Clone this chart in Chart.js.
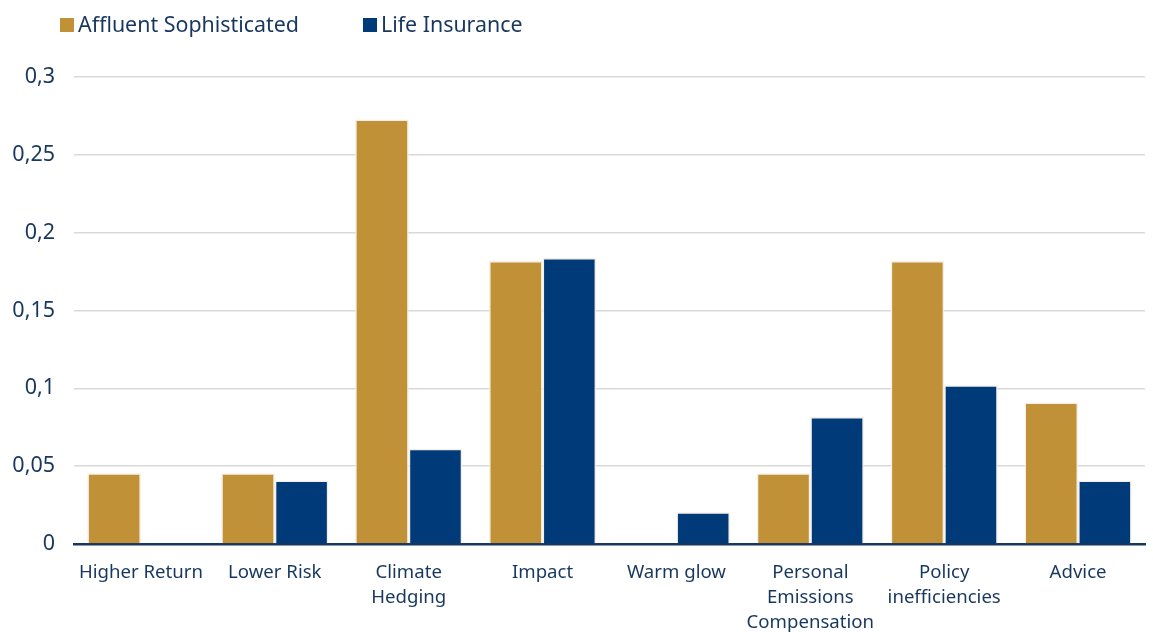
<!doctype html>
<html>
<head>
	<meta charset="UTF-8">
	<title>Motives</title>
	<script src="https://cdn.jsdelivr.net/npm/chart.js@4/dist/chart.umd.min.js"></script>
	<style>
		body { margin: 0; background: #fff; }
		#wrap { position: relative; width: 1153px; height: 632px; }
		#legend { position: absolute; left: 60px; top: 9px; display: flex; font-family: 'Noto Sans', sans-serif; font-size: 21.4px; color: #17375E; }
		#legend .item { display: flex; align-items: center; margin-right: 64px; }
		#legend .box { width: 14px; height: 14px; margin-right: 4px; margin-top: 2px; }
	</style>
</head>
<body>
<div id="wrap">
	<div id="legend"></div>
	<canvas id="chart-area" width="1153" height="632"></canvas>
</div>
<script>
	var categories = ['Higher Return', 'Lower Risk', ['Climate', 'Hedging'], 'Impact', 'Warm glow',
		['Personal', 'Emissions', 'Compensation'], ['Policy', 'inefficiencies'], 'Advice'];
	var affluent = [0.0455, 0.0455, 0.2727, 0.1818, 0, 0.0455, 0.1818, 0.0909];
	var lifeIns = [0, 0.0408, 0.0612, 0.1837, 0.0204, 0.0816, 0.102, 0.0408];
	var seriesNames = ['Affluent Sophisticated', 'Life Insurance'];
	var colors = ['#C09137', '#003A78'];
	var textColor = '#17375E';

	// html legend, built from the chart's own legend items
	var htmlLegend = {
		id: 'htmlLegend',
		afterUpdate: function (chart) {
			var el = document.getElementById('legend');
			el.innerHTML = '';
			var items = chart.options.plugins.legend.labels.generateLabels(chart);
			items.forEach(function (it) {
				var d = document.createElement('div');
				d.className = 'item';
				var b = document.createElement('span');
				b.className = 'box';
				b.style.background = it.fillStyle;
				var t = document.createElement('span');
				t.textContent = it.text;
				d.appendChild(b);
				d.appendChild(t);
				el.appendChild(d);
			});
		}
	};

	var config = {
		type: 'bar',
		data: {
			labels: categories,
			datasets: [
				{ label: seriesNames[0], data: affluent, backgroundColor: colors[0], borderColor: '#f4efe6', borderWidth: 1.5 },
				{ label: seriesNames[1], data: lifeIns, backgroundColor: colors[1], borderColor: '#f4efe6', borderWidth: 1.5 }
			]
		},
		options: {
			responsive: false,
			animation: false,
			datasets: { bar: { categoryPercentage: 0.8, barPercentage: 1 } },
			layout: { padding: { top: 77, left: 8, right: 8, bottom: 0 } },
			plugins: {
				legend: { display: false },
				tooltip: { enabled: false }
			},
			scales: {
				x: {
					grid: { display: false, drawTicks: false },
					border: { color: '#17375E', width: 2.5 },
					ticks: { color: textColor, padding: 16, font: { family: 'Noto Sans', size: 18.6, lineHeight: 1.35 }, maxRotation: 0, autoSkip: false },
					afterFit: function (s) { s.height = 88; s.paddingLeft = 0; s.paddingRight = 0; }
				},
				y: {
					min: 0,
					max: 0.3,
					grid: { color: '#d9d9d9', lineWidth: 1.5, drawTicks: false },
					border: { display: false },
					ticks: {
						stepSize: 0.05,
						color: textColor,
						padding: 19,
						font: { family: 'Noto Sans', size: 21.5 },
						callback: function (v) { return Number(v.toFixed(2)).toString().replace('.', ','); }
					},
					afterFit: function (s) { s.width = 66; }
				}
			}
		},
		plugins: [htmlLegend]
	};

	var ctx = document.getElementById('chart-area').getContext('2d');
	window.myBar = new Chart(ctx, config);
</script>
</body>
</html>
